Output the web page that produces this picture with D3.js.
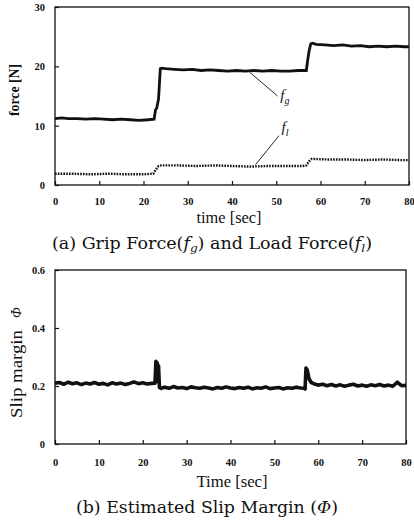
<!DOCTYPE html>
<html>
<head>
<meta charset="utf-8">
<script src="https://cdn.jsdelivr.net/npm/d3@7"></script>
<style>
  body { margin: 0; background: #fff; }
  svg { display: block; }
  text { font-family: "Liberation Serif", "DejaVu Serif", serif; fill: #111; }
  .tick text { font-size: 10.5px; font-weight: bold; }
  .cap { font-family: "DejaVu Serif", serif; font-size: 16px; }
</style>
</head>
<body>
<div id="chart"></div>
<script>
// grip force f_g (top plot)
const fgTime = [0,1.5,3,5,7,9,11,13,15,17,19,21,22.4,22.7,23.0,23.4,23.8,24.1,25,27,29,31,33,35,37,39,41,43,45,47,49,51,53,55,56.8,57.1,57.4,57.8,58.2,59,61,63,65,67,69,71,73,75,77,79,80];
const fgVals = [11.2,11.3,11.2,11.2,11.1,11.2,11.1,11.0,11.1,11.0,10.9,11.0,11.1,12.6,13.0,14.5,19.6,19.7,19.6,19.5,19.4,19.5,19.3,19.4,19.3,19.2,19.3,19.2,19.3,19.2,19.3,19.2,19.2,19.3,19.3,21.0,22.5,23.8,23.9,23.7,23.6,23.5,23.6,23.4,23.5,23.3,23.4,23.3,23.4,23.3,23.3];

// load force f_l (dotted)
const flTime = [0,4,8,12,16,20,22.2,22.8,23.4,24,28,32,36,40,44,48,52,56,56.8,57.4,58,62,66,70,74,78,80];
const flVals = [1.9,1.9,1.8,1.9,1.8,1.8,1.9,2.6,3.2,3.3,3.3,3.2,3.3,3.2,3.1,3.2,3.2,3.2,3.3,4.0,4.4,4.3,4.3,4.2,4.3,4.2,4.2];

// estimated slip margin (bottom plot)
const phiTime = [0,1,2,3,4,5,6,7,8,9,10,11,12,13,14,15,16,17,18,19,20,21,22,
  22.8,23.0,23.15,23.3,23.45,23.6,23.8,24.2,
  25,26,27,28,29,30,31,32,33,34,35,36,37,38,39,40,41,42,43,44,45,46,47,48,49,50,51,52,53,54,55,56,
  56.8,57.0,57.2,57.5,57.9,58.4,
  59,60,61,62,63,64,65,66,67,68,69,70,71,72,73,74,75,76,77,78,79,80];
const phiVals = [0.210,0.212,0.206,0.213,0.208,0.211,0.205,0.210,0.207,0.212,0.206,0.209,0.204,0.211,0.207,0.210,0.205,0.209,0.214,0.208,0.211,0.207,0.209,
  0.210,0.285,0.215,0.280,0.220,0.270,0.195,0.192,
  0.196,0.192,0.198,0.193,0.195,0.191,0.197,0.194,0.192,0.196,0.193,0.190,0.195,0.192,0.197,0.193,0.191,0.195,0.192,0.196,0.190,0.194,0.192,0.197,0.191,0.193,0.195,0.190,0.194,0.192,0.196,0.193,
  0.192,0.190,0.262,0.255,0.225,0.212,
  0.208,0.203,0.206,0.201,0.205,0.200,0.204,0.199,0.203,0.206,0.200,0.203,0.199,0.204,0.201,0.205,0.200,0.203,0.199,0.213,0.201,0.202];

const xTicks = [0,10,20,30,40,50,60,70,80];
const forceTicks = [0,10,20,30];
const phiTicks = [0,0.2,0.4,0.6];

const svg = d3.select("#chart").append("svg")
    .attr("width", 414)
    .attr("height", 526);

function zip(t, v) { return t.map((d, i) => ({ t: d, v: v[i] })); }

function drawFrame(x, y, yTicks, yFmt, xPad) {
    let g = svg.append("g");
    // ticks point inward, like the original
    g.append("g")
        .attr("transform", `translate(0,${y.range()[0]})`)
        .call(d3.axisBottom(x).tickValues(xTicks).tickSizeInner(-4).tickSizeOuter(0).tickPadding(xPad))
        .call(a => a.select(".domain").remove());
    g.append("g")
        .attr("transform", `translate(${x.range()[0]},0)`)
        .call(d3.axisLeft(y).tickValues(yTicks).tickFormat(yFmt).tickSizeInner(-4).tickSizeOuter(0).tickPadding(10))
        .call(a => a.select(".domain").remove());
    g.selectAll(".tick line").attr("stroke", "#111").attr("stroke-width", 1.2);
    g.append("rect")
        .attr("x", x.range()[0])
        .attr("y", y.range()[1])
        .attr("width", x.range()[1] - x.range()[0])
        .attr("height", y.range()[0] - y.range()[1])
        .attr("fill", "none")
        .attr("stroke", "#111")
        .attr("stroke-width", 1.3);
}

// stretch glyphs (not gaps) to fit the scanned widths
function fit(sel, len) {
    return sel.attr("textLength", len).attr("lengthAdjust", "spacingAndGlyphs");
}

// ---- (a) forces ----
const x1 = d3.scaleLinear().domain([0, 80]).range([55, 409]);
const y1 = d3.scaleLinear().domain([0, 30]).range([185, 7]);

const line1 = d3.line().x(d => x1(d.t)).y(d => y1(d.v));

svg.append("path")
    .datum(zip(fgTime, fgVals))
    .attr("d", line1)
    .attr("fill", "none")
    .attr("stroke", "#111")
    .attr("stroke-width", 2.8);

svg.append("path")
    .datum(zip(flTime, flVals))
    .attr("d", line1)
    .attr("fill", "none")
    .attr("stroke", "#111")
    .attr("stroke-width", 2.4)
    .attr("stroke-dasharray", "1.6,1.2");

drawFrame(x1, y1, forceTicks, d3.format("d"), 13);

// leader lines + labels
svg.append("line")
    .attr("x1", x1(44)).attr("y1", y1(19.0))
    .attr("x2", x1(50.3)).attr("y2", y1(15.0))
    .attr("stroke", "#111").attr("stroke-width", 0.9);
let lg = svg.append("text").attr("x", x1(50.9)).attr("y", y1(14.4)).style("font-size", "15px").style("font-style", "italic");
lg.append("tspan").text("f");
lg.append("tspan").attr("dy", 4).style("font-size", "10px").text("g");

svg.append("line")
    .attr("x1", x1(45.3)).attr("y1", y1(3.4))
    .attr("x2", x1(50.6)).attr("y2", y1(8.3))
    .attr("stroke", "#111").attr("stroke-width", 0.9);
let ll = svg.append("text").attr("x", x1(51.2)).attr("y", y1(8.9)).style("font-size", "15px").style("font-style", "italic");
ll.append("tspan").text("f");
ll.append("tspan").attr("dy", 4).style("font-size", "10px").text("l");

fit(svg.append("text")
    .attr("transform", "translate(19,90) rotate(-90)")
    .attr("text-anchor", "middle")
    .style("font-size", "15px")
    .style("font-weight", "600")
    .text("force [N]"), 52);

fit(svg.append("text")
    .attr("x", 229).attr("y", 223)
    .attr("text-anchor", "middle")
    .style("font-size", "16px")
    .text("time [sec]"), 65);

let capA = fit(svg.append("text").attr("class", "cap")
    .attr("x", 212).attr("y", 249).attr("text-anchor", "middle"), 320);
capA.append("tspan").text("(a) Grip Force(");
capA.append("tspan").style("font-style", "italic").text("f");
capA.append("tspan").attr("dy", 3).style("font-size", "11px").style("font-style", "italic").text("g");
capA.append("tspan").attr("dy", -3).text(") and Load Force(");
capA.append("tspan").style("font-style", "italic").text("f");
capA.append("tspan").attr("dy", 3).style("font-size", "11px").style("font-style", "italic").text("l");
capA.append("tspan").attr("dy", -3).text(")");

// ---- (b) slip margin ----
const x2 = d3.scaleLinear().domain([0, 80]).range([55, 406]);
const y2 = d3.scaleLinear().domain([0, 0.6]).range([444, 270]);

svg.append("path")
    .datum(zip(phiTime, phiVals))
    .attr("d", d3.line().x(d => x2(d.t)).y(d => y2(d.v)))
    .attr("fill", "none")
    .attr("stroke", "#111")
    .attr("stroke-width", 3.6)
    .attr("stroke-linejoin", "round");

drawFrame(x2, y2, phiTicks, d => d === 0 ? "0" : d3.format(".1f")(d), 15);

fit(svg.append("text")
    .attr("transform", "translate(22,418) rotate(-90)")
    .style("font-size", "16px")
    .text("Slip margin"), 88);
svg.append("text")
    .attr("transform", "translate(21,318) rotate(-90)")
    .style("font-size", "14px")
    .style("font-style", "italic")
    .text("Φ");

fit(svg.append("text")
    .attr("x", 232).attr("y", 487)
    .attr("text-anchor", "middle")
    .style("font-size", "16px")
    .text("Time [sec]"), 71);

let capB = fit(svg.append("text").attr("class", "cap")
    .attr("x", 207).attr("y", 513).attr("text-anchor", "middle"), 262);
capB.append("tspan").text("(b) Estimated Slip Margin (");
capB.append("tspan").style("font-style", "italic").text("Φ");
capB.append("tspan").text(")");
</script>
</body>
</html>
